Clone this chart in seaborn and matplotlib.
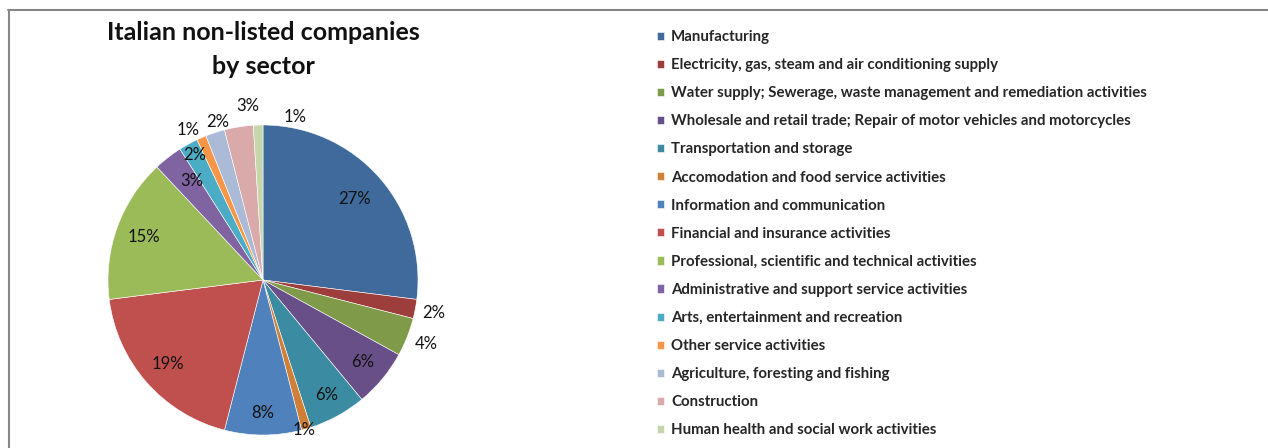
import matplotlib
matplotlib.use("Agg")
import matplotlib.pyplot as plt
from matplotlib.lines import Line2D
import numpy as np
import seaborn as sns

sectors = [
    "Manufacturing",
    "Electricity, gas, steam and air conditioning supply",
    "Water supply; Sewerage, waste management and remediation activities",
    "Wholesale and retail trade; Repair of motor vehicles and motorcycles",
    "Transportation and storage",
    "Accomodation and food service activities",
    "Information and communication",
    "Financial and insurance activities",
    "Professional, scientific and technical activities",
    "Administrative and support service activities",
    "Arts, entertainment and recreation",
    "Other service activities",
    "Agriculture, foresting and fishing",
    "Construction",
    "Human health and social work activities",
]
shares = [27, 2, 4, 6, 6, 1, 8, 19, 15, 3, 2, 1, 2, 3, 1]

colors = [
    "#3F6A9B", "#9E3E3C", "#7F9A48", "#694F87", "#3B8CA2",
    "#D07F36", "#4F81BD", "#C0504D", "#9BBB59", "#8064A2",
    "#4BACC6", "#F79646", "#AABAD7", "#D9AAA9", "#C6D6AC",
]

# label placement: radial distance (in pie radii) and small angular nudge
label_r = [0.79, 1.12, 1.13, 0.83, 0.85, 1.0, 0.86, 0.82, 0.82, 0.79, 0.92, 1.08, 1.06, 1.13, 1.07]
label_dtheta = [0, 0, 0, 0, 0, -1, 0, 0, 0, -2, 0, 3, -2, -4, -13]

sns.set_theme(style="white")
plt.rcParams["font.family"] = ["Lato", "DejaVu Sans"]

W, H = 1268, 448
fig = plt.figure(figsize=(W / 100, H / 100), dpi=100)

cx, cy, r = 263, 280, 155
ax = fig.add_axes([(cx - r) / W, (H - cy - r) / H, 2 * r / W, 2 * r / H])
wedges, _ = ax.pie(
    shares, colors=colors, startangle=90, counterclock=False, radius=1,
    wedgeprops=dict(edgecolor="white", linewidth=0.4),
)
ax.set_xlim(-1, 1)
ax.set_ylim(-1, 1)
ax.set_aspect("equal")
ax.axis("off")

for w, v, lr, dt in zip(wedges, shares, label_r, label_dtheta):
    ang = np.deg2rad((w.theta1 + w.theta2) / 2 + dt)
    ax.text(lr * np.cos(ang), lr * np.sin(ang), f"{v}%", ha="center", va="center",
            fontsize=12, color="#111111", clip_on=False)

fig.text(cx / W, 1 - 33 / H, "Italian non-listed companies", ha="center", va="center",
         fontsize=18, fontweight="bold", color="#111111")
fig.text(cx / W, 1 - 67 / H, "by sector", ha="center", va="center",
         fontsize=18, fontweight="bold", color="#111111")

fig.legend(
    wedges, sectors, loc="upper left", bbox_to_anchor=(657 / W, 1 - 30 / H),
    frameon=False, prop=dict(weight="bold", size=10.8),
    handlelength=0.47, handleheight=0.47, handletextpad=0.47,
    labelspacing=0.94, borderaxespad=0, borderpad=0,
)

fig.add_artist(Line2D([8.5 / W, 8.5 / W], [0, 1 - 10 / H], transform=fig.transFigure,
                      color="#878787", linewidth=1.5))
fig.add_artist(Line2D([8 / W, 1], [1 - 10.5 / H, 1 - 10.5 / H], transform=fig.transFigure,
                      color="#878787", linewidth=1.5))

fig.savefig("out.png", dpi=100, facecolor="white")
